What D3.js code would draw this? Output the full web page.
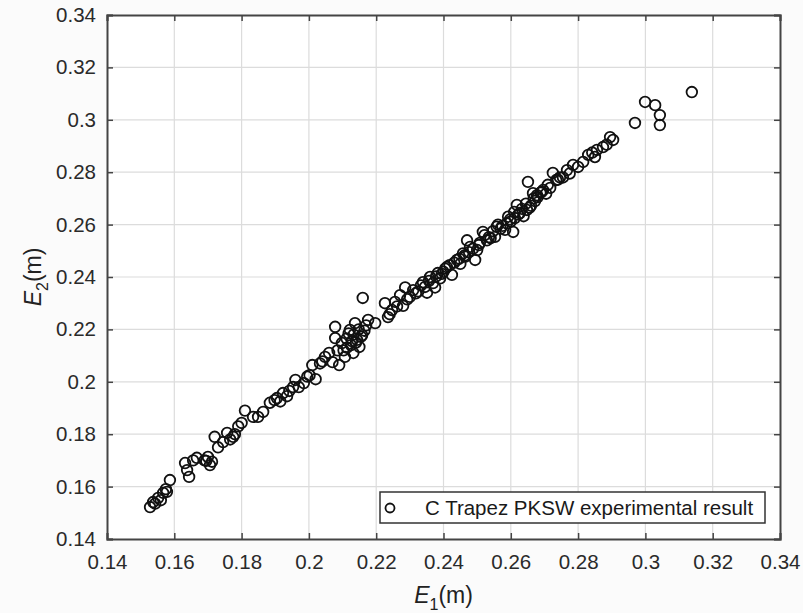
<!DOCTYPE html>
<html>
<head>
<meta charset="utf-8">
<script src="https://cdn.jsdelivr.net/npm/d3@7"></script>
<style>
  body { margin: 0; background: #fbfbfb; }
  svg { display: block; font-family: "Liberation Sans", Arial, sans-serif; }
</style>
</head>
<body>
<div id="chart"></div>
<script>
// values (E1, E2 in metres)
var e1 = [
  0.1528, 0.1537, 0.1552, 0.1567, 0.1578, 0.1587, 0.1575, 0.1560,
  0.1632, 0.1638, 0.1644, 0.1656, 0.1667, 0.1690, 0.1700, 0.1706, 0.1712,
  0.1720, 0.1730, 0.1745, 0.1757, 0.1766, 0.1780, 0.1790, 0.1800, 0.1810,
  0.1834, 0.1849, 0.1864, 0.1884, 0.1905, 0.1915, 0.1923, 0.1935, 0.1953,
  0.1960, 0.1970, 0.1995, 0.2010, 0.2020, 0.2033, 0.2048, 0.2060, 0.2070,
  0.2078, 0.2078, 0.2090, 0.2098, 0.2107, 0.2113, 0.2118, 0.2122, 0.2128,
  0.2137, 0.2143, 0.2150, 0.2158, 0.2160, 0.2165, 0.2176, 0.2197, 0.2132,
  0.2226, 0.2235, 0.2247, 0.2256, 0.2271, 0.2280, 0.2286, 0.2300, 0.2310,
  0.2325, 0.2339, 0.2345, 0.2351, 0.2360, 0.2369, 0.2375, 0.2383, 0.2390,
  0.2400, 0.2410, 0.2425, 0.2440, 0.2450, 0.2458, 0.2465, 0.2470, 0.2479,
  0.2494, 0.2500, 0.2508, 0.2517, 0.2529, 0.2540, 0.2553, 0.2562, 0.2570,
  0.2583, 0.2592, 0.2600, 0.2607, 0.2612, 0.2618, 0.2627, 0.2638, 0.2648,
  0.2651, 0.2660, 0.2666, 0.2672, 0.2680, 0.2688, 0.2696, 0.2705, 0.2717,
  0.2725, 0.2735, 0.2746, 0.2755, 0.2767, 0.2785, 0.2800, 0.2815, 0.2830,
  0.2850, 0.2856, 0.2874, 0.2895, 0.2904, 0.2969, 0.2999, 0.3029, 0.3043,
  0.3043, 0.3138,
  // extra overlapping points in the dense part of the band
  0.1543, 0.1695, 0.1775, 0.1898, 0.1942, 0.1985, 0.2002, 0.2040, 0.2085,
  0.2103, 0.2112, 0.2125, 0.2133, 0.2140, 0.2148, 0.2155, 0.2170, 0.2240,
  0.2262, 0.2292, 0.2318, 0.2333, 0.2357, 0.2378, 0.2395, 0.2405, 0.2418,
  0.2432, 0.2447, 0.2462, 0.2476, 0.2488, 0.2505, 0.2522, 0.2535, 0.2547,
  0.2558, 0.2575, 0.2588, 0.2598, 0.2610, 0.2622, 0.2633, 0.2645, 0.2656,
  0.2668, 0.2678, 0.2692, 0.2710, 0.2740, 0.2775, 0.2842, 0.2885
];
var e2 = [
  0.1522, 0.1541, 0.1557, 0.1576, 0.1580, 0.1625, 0.1590, 0.1548,
  0.1690, 0.1663, 0.1637, 0.1700, 0.1710, 0.1700, 0.1713, 0.1682, 0.1695,
  0.1790, 0.1750, 0.1770, 0.1805, 0.1780, 0.1800, 0.1830, 0.1843, 0.1890,
  0.1866, 0.1866, 0.1885, 0.1920, 0.1938, 0.1925, 0.1957, 0.1945, 0.1980,
  0.2007, 0.1980, 0.2020, 0.2064, 0.2010, 0.2070, 0.2095, 0.2110, 0.2075,
  0.2210, 0.2167, 0.2064, 0.2148, 0.2095, 0.2130, 0.2185, 0.2198, 0.2155,
  0.2224, 0.2160, 0.2133, 0.2178, 0.2320, 0.2195, 0.2236, 0.2224, 0.2110,
  0.2300, 0.2247, 0.2274, 0.2305, 0.2331, 0.2290, 0.2360, 0.2324, 0.2350,
  0.2345, 0.2380, 0.2362, 0.2340, 0.2400, 0.2377, 0.2360, 0.2415, 0.2395,
  0.2420, 0.2438, 0.2408, 0.2465, 0.2450, 0.2490, 0.2478, 0.2540, 0.2515,
  0.2465, 0.2503, 0.2530, 0.2572, 0.2540, 0.2548, 0.2553, 0.2600, 0.2585,
  0.2580, 0.2630, 0.2612, 0.2572, 0.2625, 0.2675, 0.2644, 0.2632, 0.2656,
  0.2763, 0.2672, 0.2720, 0.2690, 0.2705, 0.2722, 0.2732, 0.2718, 0.2740,
  0.2797, 0.2770, 0.2780, 0.2780, 0.2808, 0.2828, 0.2820, 0.2839, 0.2866,
  0.2858, 0.2885, 0.2896, 0.2934, 0.2923, 0.2988, 0.3068, 0.3056, 0.3018,
  0.2980, 0.3106,
  0.1535, 0.1698, 0.1790, 0.1930, 0.1965, 0.1995, 0.2025, 0.2078, 0.2120,
  0.2120, 0.2165, 0.2140, 0.2180, 0.2150, 0.2200, 0.2172, 0.2215, 0.2258,
  0.2288, 0.2315, 0.2338, 0.2368, 0.2385, 0.2402, 0.2412, 0.2432, 0.2445,
  0.2455, 0.2470, 0.2482, 0.2495, 0.2508, 0.2522, 0.2560, 0.2552, 0.2575,
  0.2592, 0.2595, 0.2605, 0.2620, 0.2648, 0.2638, 0.2660, 0.2680, 0.2665,
  0.2700, 0.2712, 0.2725, 0.2752, 0.2772, 0.2795, 0.2875, 0.2905
];
var xTicks = [0.14, 0.16, 0.18, 0.2, 0.22, 0.24, 0.26, 0.28, 0.3, 0.32, 0.34];
var yTicks = [0.14, 0.16, 0.18, 0.2, 0.22, 0.24, 0.26, 0.28, 0.3, 0.32, 0.34];
var legendLabel = "C Trapez PKSW experimental result";

var W = 803, H = 613;
var margin = {left: 107, right: 23, top: 15, bottom: 74};
var pw = W - margin.left - margin.right;
var ph = H - margin.top - margin.bottom;

var svg = d3.select("#chart").append("svg")
    .attr("width", W)
    .attr("height", H);

var x = d3.scaleLinear().domain([0.14, 0.34]).range([0, pw]);
var y = d3.scaleLinear().domain([0.14, 0.34]).range([ph, 0]);

var g = svg.append("g")
    .attr("transform", "translate(" + margin.left + "," + margin.top + ")");

g.append("rect")
    .attr("width", pw)
    .attr("height", ph)
    .attr("fill", "#fff");

// grid
g.selectAll(".vgrid").data(xTicks.slice(1, -1)).enter().append("line")
    .attr("x1", function(d) { return x(d); })
    .attr("x2", function(d) { return x(d); })
    .attr("y1", 0).attr("y2", ph)
    .attr("stroke", "#dcdcdc").attr("stroke-width", 1.2);
g.selectAll(".hgrid").data(yTicks.slice(1, -1)).enter().append("line")
    .attr("y1", function(d) { return y(d); })
    .attr("y2", function(d) { return y(d); })
    .attr("x1", 0).attr("x2", pw)
    .attr("stroke", "#dcdcdc").attr("stroke-width", 1.2);

// points
var pts = e1.map(function(v, i) { return [v, e2[i]]; });
g.selectAll(".pt").data(pts).enter().append("circle")
    .attr("cx", function(d) { return x(d[0]); })
    .attr("cy", function(d) { return y(d[1]); })
    .attr("r", 5.3)
    .attr("fill", "none")
    .attr("stroke", "#111")
    .attr("stroke-width", 1.8);

// axes, ticks inward on all four sides
var tickFmt = function(d) { return d3.format("~g")(+d.toFixed(2)); };
var axBottom = g.append("g").attr("transform", "translate(0," + ph + ")")
    .call(d3.axisBottom(x).tickValues(xTicks).tickSize(-6).tickPadding(15).tickFormat(tickFmt));
var axLeft = g.append("g")
    .call(d3.axisLeft(y).tickValues(yTicks).tickSize(-6).tickPadding(11).tickFormat(tickFmt));
var axTop = g.append("g")
    .call(d3.axisTop(x).tickValues(xTicks).tickSize(-6).tickFormat(""));
var axRight = g.append("g").attr("transform", "translate(" + pw + ",0)")
    .call(d3.axisRight(y).tickValues(yTicks).tickSize(-6).tickFormat(""));

[axBottom, axLeft, axTop, axRight].forEach(function(a) {
    a.select(".domain").attr("stroke", "#444").attr("stroke-width", 2);
    a.selectAll(".tick line").attr("stroke", "#444").attr("stroke-width", 1.5);
    a.selectAll(".tick text").attr("fill", "#2a2a2a")
        .style("font-size", "20.5px")
        .style("font-family", "'Liberation Sans', Arial, sans-serif");
});

// legend
var lg = g.append("g").attr("transform", "translate(" + (380 - margin.left) + "," + (492 - margin.top) + ")");
lg.append("rect")
    .attr("width", 385).attr("height", 31)
    .attr("fill", "#fff")
    .attr("stroke", "#333").attr("stroke-width", 1.5);
lg.append("circle")
    .attr("cx", 10).attr("cy", 16).attr("r", 4.5)
    .attr("fill", "none").attr("stroke", "#111").attr("stroke-width", 1.8);
lg.append("text")
    .attr("x", 45).attr("y", 23)
    .attr("fill", "#1a1a1a")
    .style("font-size", "20.5px")
    .text(legendLabel);

// axis titles
var xl = svg.append("text")
    .attr("x", margin.left + pw / 2).attr("y", 603)
    .attr("text-anchor", "middle")
    .attr("fill", "#222")
    .style("font-size", "23px");
xl.append("tspan").style("font-style", "italic").text("E");
xl.append("tspan").attr("dy", 7).style("font-size", "16px").text("1");
xl.append("tspan").attr("dy", -7).text("(m)");

var yl = svg.append("text")
    .attr("transform", "translate(41," + (margin.top + ph / 2) + ") rotate(-90)")
    .attr("text-anchor", "middle")
    .attr("fill", "#222")
    .style("font-size", "23px");
yl.append("tspan").style("font-style", "italic").text("E");
yl.append("tspan").attr("dy", 7).style("font-size", "16px").text("2");
yl.append("tspan").attr("dy", -7).text("(m)");
</script>
</body>
</html>
